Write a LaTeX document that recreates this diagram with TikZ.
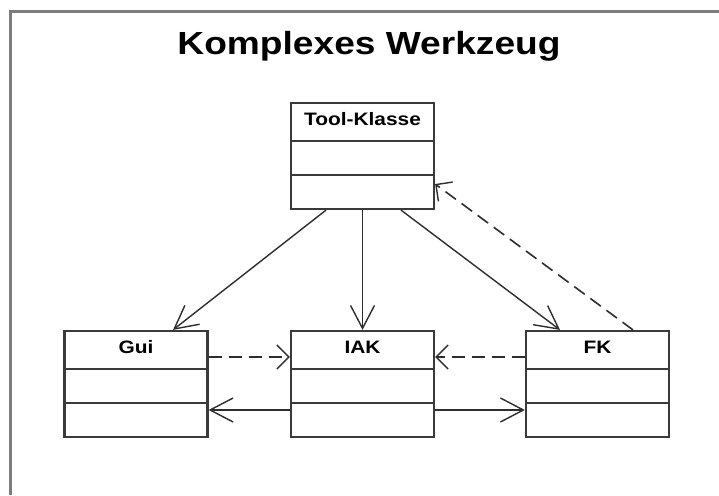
\documentclass[tikz,border=0pt]{standalone}
\usepackage{fontspec}
\usepackage{graphicx}
\setmainfont{Liberation Sans}
\usetikzlibrary{arrows.meta,calc}

\definecolor{framegray}{HTML}{7C7C7C}
\definecolor{boxline}{HTML}{3A3A3A}
\definecolor{linkline}{HTML}{2E2E2E}

\newcommand{\wide}[1]{\scalebox{1.16}[1]{#1}}

\tikzset{
  cls/.style={draw=boxline, line width=2.2pt, fill=white,
    minimum width=143pt, minimum height=106pt, inner sep=0pt},
  clsname/.style={anchor=base, inner sep=0pt,
    font=\fontsize{18pt}{20pt}\selectfont\bfseries},
  divider/.style={draw=boxline, line width=2pt},
  assoc/.style={draw=linkline, line width=1.4pt,
    -{Straight Barb[length=23pt,width=24pt,line width=1.4pt]}},
  depend/.style={draw=linkline, line width=1.6pt,
    dash pattern=on 13pt off 7pt,
    -{Straight Barb[length=12pt,width=24pt,line width=1.4pt]}},
  frameline/.style={draw=framegray, line width=3pt}
}

\begin{document}
\begin{tikzpicture}[x=1pt,y=-1pt]
\useasboundingbox (0,0) rectangle (719,495);
\fill[white] (0,0) rectangle (719,495);

% outer frame (top and left edges)
\draw[frameline] (10.5,495) -- (10.5,12) -- (719,12);

% title
\node[anchor=base, inner sep=0pt,
      font=\fontsize{32pt}{36pt}\selectfont\bfseries] (title) at (369,55)
      {\wide{Komplexes Werkzeug}};

% classes: frame, compartment dividers, name
\node[cls] (tool) at (362.5,156) {};
\node[cls] (gui)  at (136,384) {};
\node[cls] (iak)  at (362.5,384) {};
\node[cls] (fk)   at (597.5,384) {};

\foreach \c in {tool,gui,iak,fk}{
  \draw[divider] ([yshift=-39pt]\c.north west) -- ([yshift=-39pt]\c.north east);
  \draw[divider] ([yshift=-73pt]\c.north west) -- ([yshift=-73pt]\c.north east);
}

\node[clsname] (toolname) at ([yshift=-24pt]tool.north) {\wide{Tool-Klasse}};
\node[clsname] (guiname)  at ([yshift=-24pt]gui.north)  {\wide{Gui}};
\node[clsname] (iakname)  at ([yshift=-24pt]iak.north)  {\wide{IAK}};
\node[clsname] (fkname)   at ([yshift=-24pt]fk.north)   {\wide{FK}};

% associations from the tool class
\draw[assoc] ([xshift=-36.5pt]tool.south) -- ([xshift=37pt]gui.north);
\draw[assoc] (tool.south) -- (iak.north);
\draw[assoc] ([xshift=38.5pt]tool.south) -- ([xshift=-37.5pt]fk.north);

% associations from IAK to the sides
\draw[assoc] ([yshift=-26pt]iak.west) -- ([yshift=-26pt]gui.east);
\draw[assoc] ([yshift=-26pt]iak.east) -- ([yshift=-26pt]fk.west);

% dependencies
\draw[depend] ([yshift=27pt]gui.east) -- ([yshift=27pt]iak.west);
\draw[depend] ([yshift=27pt]fk.west) -- ([yshift=27pt]iak.east);
\draw[depend] ([xshift=35.5pt]fk.north) -- ([yshift=-28pt]tool.east);
\end{tikzpicture}
\end{document}
